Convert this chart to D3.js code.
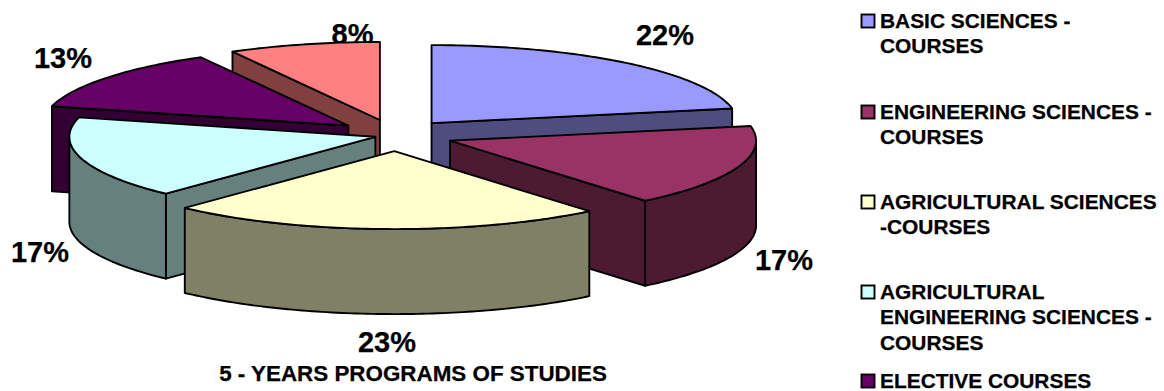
<!DOCTYPE html>
<html>
<head>
<meta charset="utf-8">
<style>
  html, body { margin: 0; padding: 0; background: #fff; }
  svg { display: block; }
  text { font-family: "Liberation Sans", Arial, sans-serif; font-weight: bold; fill: #000; stroke: #000; stroke-width: 0.25px; }
</style>
<script src="https://cdn.jsdelivr.net/npm/d3@7/dist/d3.min.js"></script>
</head>
<body>
<svg id="chart" width="1164" height="391"></svg>
<script>
// Share of each course group in the five-year programme, in percent.
const values = [22, 17, 23, 17, 13, 8];
const colors = ["#9999FF", "#993366", "#FFFFCC", "#CCFFFF", "#660066", "#FF8080"];
// Legend entries, already broken into lines; the sixth slice has no entry in view.
const categories = [
  ["BASIC SCIENCES -", "COURSES"],
  ["ENGINEERING SCIENCES -", "COURSES"],
  ["AGRICULTURAL SCIENCES", "-COURSES"],
  ["AGRICULTURAL", "ENGINEERING SCIENCES -", "COURSES"],
  ["ELECTIVE COURSES"]
];
const chartTitle = "5 - YEARS PROGRAMS OF STUDIES";
// How far each slice is pulled out of the pie, relative to the full pull.
const pull = [1, 1, 1, 0.34, 1, 1];

// Pie geometry: tilted ellipse, extrusion depth and explosion distance.
const center = { x: 394.4, y: 135.3 };
const radius = { x: 306, y: 78 };
const explode = { x: 58.3, y: 15.8 };
const depth = 85;
// Small horizontal alignment per slice.
const nudgeX = [0, 0.8, 1.7, 0, 0, 0];
// Painter's order, farthest slice first.
const drawOrder = [0, 5, 4, 3, 1, 2];
// Label anchors by slice.
const labelAnchors = [[665, 45], [784, 270], [387, 352], [40, 262], [63, 68], [352.5, 44]];
const legendRows = [28, 119, 209, 299, 388];
const lineStep = 25.3;

const svg = d3.select("#chart");
const slices = d3.pie().sort(null).value(d => d)(values);

// Percentage labels sit beneath the pie, so the 8% label tucks behind its slice.
svg.append("g").selectAll("text").data(values).join("text")
  .attr("x", (d, i) => labelAnchors[i][0])
  .attr("y", (d, i) => labelAnchors[i][1])
  .attr("text-anchor", "middle")
  .attr("font-size", 29)
  .text(d => d + "%");

// Project a pie angle (clockwise from 12 o'clock) onto the tilted ellipse.
const project = (origin, a, drop = 0) => [
  origin.x + radius.x * Math.sin(a),
  origin.y - radius.y * Math.cos(a) + drop
];
const rim = (origin, a0, a1, drop = 0) => {
  const n = Math.max(2, Math.ceil((a1 - a0) * 60));
  return d3.range(n + 1).map(i => project(origin, a0 + (a1 - a0) * i / n, drop));
};
const shape = d3.line().curve(d3.curveLinear);
const halfTone = c => { const r = d3.rgb(c); return d3.rgb(r.r / 2, r.g / 2, r.b / 2).formatHex(); };

const pieLayer = svg.append("g")
  .attr("stroke", "#000").attr("stroke-width", 1.9).attr("stroke-linejoin", "round");

drawOrder.forEach(i => {
  const s = slices[i];
  const mid = (s.startAngle + s.endAngle) / 2;
  const o = {
    x: center.x + explode.x * pull[i] * Math.sin(mid) + nudgeX[i],
    y: center.y - explode.y * pull[i] * Math.cos(mid)
  };
  const side = halfTone(colors[i]);
  const g = pieLayer.append("g");
  const apex = [o.x, o.y];
  const apexLow = [o.x, o.y + depth];

  // Radial cut faces that look toward the viewer.
  if (Math.sin(s.startAngle) < 0) {
    const p = project(o, s.startAngle);
    g.append("path").attr("fill", side)
      .attr("d", shape([apex, p, [p[0], p[1] + depth], apexLow]) + "Z");
  }
  if (Math.sin(s.endAngle) > 0) {
    const p = project(o, s.endAngle);
    g.append("path").attr("fill", side)
      .attr("d", shape([apex, p, [p[0], p[1] + depth], apexLow]) + "Z");
  }
  // Outer wall, only along the front half of the ellipse.
  const w0 = Math.max(s.startAngle, Math.PI / 2);
  const w1 = Math.min(s.endAngle, 3 * Math.PI / 2);
  if (w1 > w0) {
    const top = rim(o, w0, w1);
    const bottom = rim(o, w0, w1, depth).reverse();
    g.append("path").attr("fill", side).attr("d", shape(top.concat(bottom)) + "Z");
  }
  // Top face.
  g.append("path").attr("fill", colors[i])
    .attr("d", shape([apex].concat(rim(o, s.startAngle, s.endAngle))) + "Z");
});

svg.append("text")
  .attr("x", 413).attr("y", 381)
  .attr("text-anchor", "middle").attr("font-size", 22.4)
  .text(chartTitle);

const legend = svg.append("g");
categories.forEach((lines, i) => {
  legend.append("rect")
    .attr("x", 861.5).attr("y", legendRows[i] - 13.5)
    .attr("width", 13).attr("height", 13)
    .attr("fill", colors[i]).attr("stroke", "#000").attr("stroke-width", 1.9);
  lines.forEach((t, j) => {
    legend.append("text")
      .attr("x", 880).attr("y", legendRows[i] + j * lineStep)
      .attr("font-size", 20.9).text(t);
  });
});
</script>
</body>
</html>
